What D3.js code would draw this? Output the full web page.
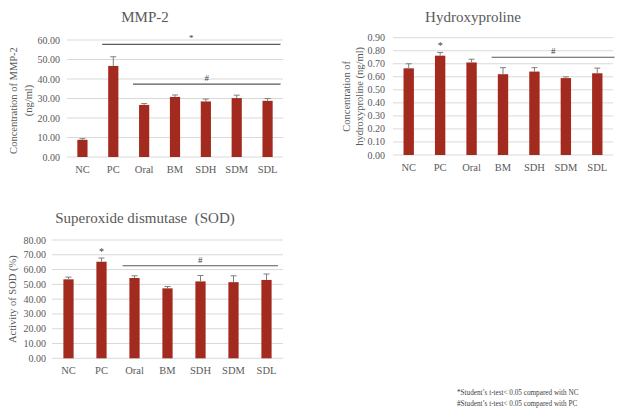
<!DOCTYPE html>
<html><head><meta charset="utf-8">
<script src="https://cdn.jsdelivr.net/npm/d3@7"></script>
<style>
html,body{margin:0;padding:0;background:#fff;}
</style></head>
<body><svg id="c" width="625" height="420" font-family="'Liberation Serif', 'DejaVu Serif', serif"></svg>
<script>
const categories = ["NC","PC","Oral","BM","SDH","SDM","SDL"];

const mmpValues = [8.8, 46.7, 26.7, 30.8, 28.5, 30.2, 28.8];
const mmpErrors = [0.6, 4.7, 0.7, 1.0, 1.2, 1.5, 1.2];
const mmpTicks = [0,10,20,30,40,50,60];

const hypValues = [0.665, 0.762, 0.71, 0.62, 0.64, 0.59, 0.627];
const hypErrors = [0.035, 0.025, 0.025, 0.05, 0.03, 0.01, 0.04];
const hypTicks = [0,0.1,0.2,0.3,0.4,0.5,0.6,0.7,0.8,0.9];

const sodValues = [53.4, 65.3, 54.3, 47.3, 52.0, 51.5, 53.0];
const sodErrors = [1.5, 2.5, 1.5, 1.3, 4.0, 4.3, 4.0];
const sodTicks = [0,10,20,30,40,50,60,70,80];

// significance annotations: [symbol, fromCategory, toCategory, level]
const mmpSig = [["*","PC","SDL",57.8],["#","Oral","SDL",37.4]];
const hypSig = [["#","BM","SDL",0.75]];
const sodSig = [["#","Oral","SDL",62.6]];
// single-bar markers
const hypStar = ["PC"];
const sodStar = ["PC"];

const footnotes = ["*Student\u2019s t-test< 0.05 compared with NC","#Student\u2019s t-test< 0.05 compared with PC"];

const svg = d3.select("#c");
const BAR = "#A32A1E";
const TXT = "#595959";
const FONT = "'Liberation Serif', 'DejaVu Serif', serif";

function drawChart(o){
  const g = svg.append("g").attr("font-family",FONT).attr("fill",TXT);
  const x = d3.scaleBand().domain(categories).range([o.x0,o.x1]).paddingInner(o.pad).paddingOuter(o.pad/2);
  const y = d3.scaleLinear().domain([0,o.max]).range([o.yb,o.yt]);
  g.selectAll(".grid").data(o.ticks).enter().append("line")
    .attr("x1",o.x0).attr("x2",o.x1)
    .attr("y1",d=>y(d)).attr("y2",d=>y(d))
    .attr("stroke","#d9d9d9").attr("stroke-width",1);
  g.selectAll(".yl").data(o.ticks).enter().append("text")
    .attr("x",o.x0-o.lo).attr("y",d=>y(d)+3.5)
    .attr("text-anchor","end").attr("font-size",10).attr("font-family",FONT).attr("fill",TXT)
    .text(d=>d3.format(".2f")(d));
  g.selectAll(".bar").data(categories).enter().append("rect")
    .attr("x",d=>x(d)).attr("width",x.bandwidth())
    .attr("y",(d,i)=>y(o.values[i]))
    .attr("height",(d,i)=>y(0)-y(o.values[i]))
    .attr("fill",BAR);
  const eg = g.selectAll(".err").data(categories).enter().append("g");
  eg.append("line")
    .attr("x1",d=>x(d)+x.bandwidth()/2).attr("x2",d=>x(d)+x.bandwidth()/2)
    .attr("y1",(d,i)=>y(o.values[i])).attr("y2",(d,i)=>y(o.values[i]+o.errors[i]))
    .attr("stroke","#7f7f7f").attr("stroke-width",1);
  eg.append("line")
    .attr("x1",d=>x(d)+x.bandwidth()/2-3).attr("x2",d=>x(d)+x.bandwidth()/2+3)
    .attr("y1",(d,i)=>y(o.values[i]+o.errors[i])).attr("y2",(d,i)=>y(o.values[i]+o.errors[i]))
    .attr("stroke","#7f7f7f").attr("stroke-width",1);
  g.selectAll(".xl").data(categories).enter().append("text")
    .attr("x",d=>x(d)+x.bandwidth()/2).attr("y",o.yb+16)
    .attr("text-anchor","middle").attr("font-size",10.5).attr("font-family",FONT).attr("fill",TXT)
    .text(d=>d);
  g.append("text").attr("x",o.tx).attr("y",o.ty).attr("text-anchor","middle")
    .attr("font-size",15).attr("font-family",FONT).attr("fill",TXT).text(o.title);
  const cy = (o.yt+o.yb)/2 + o.ycOff;
  o.ytitle.forEach((t,k)=>{
    g.append("text").attr("transform",`translate(${o.ytx[k]},${cy}) rotate(-90)`)
      .attr("text-anchor","middle").attr("font-size",10.5).attr("font-family",FONT).attr("fill",TXT).text(t);
  });
  const step = x.step();
  o.sig.forEach(s=>{
    const xa = x(s[1])+x.bandwidth()/2 - 0.36*step;
    const xb = x(s[2])+x.bandwidth()/2 + o.rext*step;
    g.append("line").attr("x1",xa).attr("x2",xb).attr("y1",y(s[3])).attr("y2",y(s[3]))
      .attr("stroke","#595959").attr("stroke-width",1.2);
    g.append("text").attr("x",(xa+xb)/2).attr("y",y(s[3])-3).attr("text-anchor","middle")
      .attr("font-size",9).attr("font-family",FONT).attr("fill","#404040").text(s[0]);
  });
  (o.stars||[]).forEach(c=>{
    const i = categories.indexOf(c);
    g.append("text").attr("x",x(c)+x.bandwidth()/2).attr("y",y(o.values[i]+o.errors[i])-3)
      .attr("text-anchor","middle").attr("font-size",10).attr("font-family",FONT).attr("fill","#404040").text("*");
  });
}

drawChart({x0:67,x1:283,yt:40,yb:157,max:60,ticks:mmpTicks,values:mmpValues,errors:mmpErrors,
  pad:0.67,lo:7,title:"MMP-2",tx:145,ty:22,ytitle:["Concentration of MMP-2","(ng/ml)"],ytx:[17,32],ycOff:2,
  sig:mmpSig,rext:0.42});
drawChart({x0:393,x1:613,yt:37.7,yb:155,max:0.9,ticks:hypTicks,values:hypValues,errors:hypErrors,
  pad:0.67,lo:8,title:"Hydroxyproline",tx:473,ty:22,ytitle:["Concentration of","hydroxyproline (ng/ml)"],ytx:[350,363],ycOff:0,
  sig:hypSig,rext:0.55,stars:hypStar});
drawChart({x0:52,x1:283,yt:240,yb:358.3,max:80,ticks:sodTicks,values:sodValues,errors:sodErrors,
  pad:0.69,lo:6,title:"Superoxide dismutase\u00a0\u00a0(SOD)",tx:145,ty:223,ytitle:["Activity of SOD (%)"],ytx:[16],ycOff:0,
  sig:sodSig,rext:0.35,stars:sodStar});

svg.selectAll(".fn").data(footnotes).enter().append("text")
  .attr("x",457).attr("y",(d,i)=>395+i*10.5).attr("font-family",FONT)
  .attr("font-size",7.2).attr("fill","#404040").text(d=>d);
</script></body></html>
